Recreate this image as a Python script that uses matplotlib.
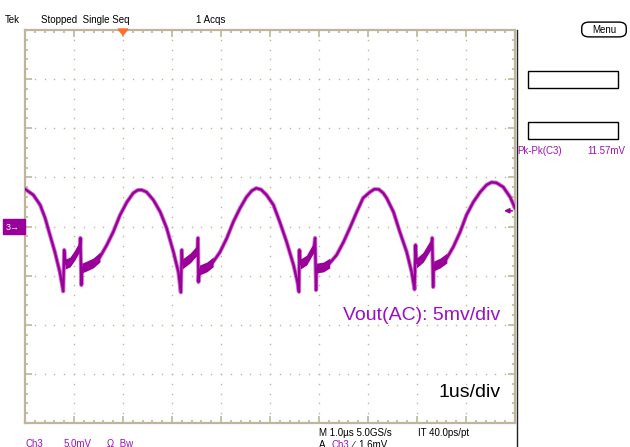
import numpy as np
import matplotlib.pyplot as plt
from matplotlib.ticker import MultipleLocator
from matplotlib.patches import FancyBboxPatch, Rectangle

# Scope trace: time in us (1 us/div), voltage in mV (5 mV/div)
t_us = [0.00, 0.17, 0.31, 0.41, 0.51, 0.61, 0.71, 0.78, 0.80, 0.82, 0.92, 1.02, 1.12, 1.13, 1.15, 1.16,
        1.26, 1.39, 1.53, 1.67, 1.80, 1.94, 2.08, 2.21, 2.30, 2.38,
        2.48, 2.62, 2.76, 2.89, 3.03, 3.13, 3.18, 3.20, 3.21, 3.37, 3.52, 3.53, 3.54, 3.56,
        3.71, 3.84, 3.98, 4.12, 4.25, 4.39, 4.52, 4.63, 4.72, 4.82,
        4.93, 5.07, 5.20, 5.34, 5.48, 5.56, 5.59, 5.60, 5.62, 5.75, 5.90, 5.92, 5.94, 5.95,
        6.09, 6.22, 6.36, 6.50, 6.63, 6.77, 6.90, 7.04, 7.13, 7.22, 7.31,
        7.38, 7.52, 7.65, 7.79, 7.89, 7.95, 7.97, 7.99, 8.13, 8.30, 8.31, 8.33, 8.34,
        8.47, 8.61, 8.74, 8.88, 9.01, 9.15, 9.29, 9.42, 9.52, 9.62, 9.76, 9.90, 10.00]
v_mv = [3.82, 3.21, 2.19, 0.87, -0.87, -2.60, -4.63, -6.60, -2.39, -3.82, -3.61, -2.90, -1.99, -1.17, -5.96, -4.23,
        -4.02, -3.72, -3.11, -1.88, -0.56, 1.17, 2.49, 3.41, 3.70, 3.72,
        3.51, 2.70, 1.48, -0.15, -2.60, -4.63, -6.70, -2.39, -3.82, -3.21, -2.39, -1.17, -5.65, -4.43,
        -4.12, -3.61, -2.60, -1.17, 0.46, 1.88, 3.00, 3.65, 3.90, 3.75,
        3.21, 2.19, 0.46, -1.58, -3.92, -5.65, -6.65, -2.39, -3.82, -3.41, -2.09, -1.17, -6.47, -4.23,
        -4.12, -3.72, -2.90, -1.58, -0.15, 1.48, 2.90, 3.51, 3.80, 3.78, 3.41,
        2.90, 1.48, -0.56, -2.60, -4.63, -6.40, -1.88, -3.72, -3.11, -1.68, -1.17, -6.16, -4.02,
        -3.72, -3.21, -2.09, -0.56, 1.17, 2.49, 3.51, 4.23, 4.50, 4.45, 4.02, 3.00, 1.88]

# stretches where the trace is visibly noisier (us)
noisy_windows = [(0.82, 1.12), (1.16, 1.55), (3.21, 3.52), (3.56, 3.90),
                 (5.62, 5.90), (5.95, 6.30), (7.99, 8.30), (8.34, 8.65)]

trigger_level_mv = 1.6
pk_pk = "11.57mV"

TRACE = '#990099'
GRAT = '#bdb59c'

W, H = 630, 447
fig = plt.figure(figsize=(W / 100, H / 100), dpi=100)
plt.rcParams['font.family'] = ['Liberation Sans', 'DejaVu Sans']


def px(x, y):
    return x / W, 1 - y / H


ax = fig.add_axes([25 / W, (H - 423) / H, 490 / W, 393 / H])
ax.set_xlim(0, 10)
ax.set_ylim(-20, 20)

# graticule: dotted grid + ticked frame
for xv in range(1, 10):
    yy = np.arange(-20, 20.01, 1.0)
    ax.plot(np.full_like(yy, xv), yy, ls='none', marker='s', ms=1.0, mew=0, color=GRAT)
for yv in range(-15, 20, 5):
    xx = np.arange(0, 10.01, 0.2)
    ax.plot(xx, np.full_like(xx, yv), ls='none', marker='s', ms=1.0, mew=0, color=GRAT)

ax.xaxis.set_major_locator(MultipleLocator(1))
ax.xaxis.set_minor_locator(MultipleLocator(0.2))
ax.yaxis.set_major_locator(MultipleLocator(5))
ax.yaxis.set_minor_locator(MultipleLocator(1))
ax.tick_params(which='both', direction='in', top=True, right=True,
               labelbottom=False, labelleft=False, color=GRAT, width=1.2)
ax.tick_params(which='major', length=5)
ax.tick_params(which='minor', length=2.5)
for s in ax.spines.values():
    s.set_color(GRAT)
    s.set_linewidth(1.6)

# trace
t = np.array(t_us)
v = np.array(v_mv)
ax.plot(t, v, color='#d070d0', lw=3.0, zorder=3)
ax.plot(t, v, color=TRACE, lw=1.7, zorder=4)
for a, b in noisy_windows:
    m = (t >= a) & (t <= b)
    ax.fill_between(t[m], v[m] - 0.5, v[m] + 0.5, color=TRACE, lw=0, zorder=4)

# trigger level marker at right edge
ax.annotate('', xy=(9.72, trigger_level_mv), xytext=(10.0, trigger_level_mv),
            arrowprops=dict(arrowstyle='-|>', color=TRACE, lw=1.2, mutation_scale=7),
            annotation_clip=False, zorder=5)

# annotations in the plot area
ax.text(9.7, -9.1, 'Vout(AC): 5mv/div', color='#9a10c8', fontsize=14,
        ha='right', va='center', zorder=6)
ax.text(9.7, -16.9, '1us/div', color='black', fontsize=14,
        ha='right', va='center', zorder=6)

# trigger position marker (orange) on top edge
fig.patches.append(plt.Polygon([px(118, 29), px(128, 29), px(123, 35)], closed=True,
                               transform=fig.transFigure, color='#ff7030', zorder=10))

# channel ground marker on the left
fig.patches.append(Rectangle(px(3, 234), 22 / W, 15 / H, transform=fig.transFigure,
                             color='#990099', zorder=10))
fig.text(*px(13, 227), '3\u2192', color='white', fontsize=6.5, ha='center', va='center', zorder=11)

# top status line
fig.text(*px(5, 20), 'Tek', fontsize=7, va='center')
fig.text(*px(41, 20), 'Stopped  Single Seq', fontsize=7, va='center')
fig.text(*px(196, 20), '1 Acqs', fontsize=7, va='center')

# right side panel
fig.patches.append(FancyBboxPatch(px(583, 36), 42 / W, 13 / H, boxstyle='round,pad=0.002,rounding_size=0.012',
                                  transform=fig.transFigure, fc='white', ec='black', lw=1.0))
fig.text(*px(604, 30), 'Menu', fontsize=7, ha='center', va='center')
for ytop in (71, 122):
    fig.patches.append(Rectangle(px(528, ytop + 17), 90 / W, 17 / H, transform=fig.transFigure,
                                 fc='white', ec='black', lw=1.0))
fig.text(*px(517, 151), 'Pk-Pk(C3)', fontsize=7, color='#a010b0', va='center')
fig.text(*px(625, 151), pk_pk, fontsize=7, color='#a010b0', va='center', ha='right')
fig.add_artist(plt.Line2D([517 / W, 517 / W], [0, 1 - 30 / H], transform=fig.transFigure,
                          color='#202020', lw=1.0))

# bottom status lines (cut off by the screen edge, as on the scope)
fig.text(*px(25, 444), 'Ch3', fontsize=7, color='#a010b0', va='center')
fig.text(*px(64, 444), '5.0mV', fontsize=7, color='#a010b0', va='center')
fig.text(*px(107, 444), '\u03a9  Bw', fontsize=7, color='#a010b0', va='center')
fig.text(*px(319, 433), 'M 1.0\u00b5s 5.0GS/s', fontsize=7, va='center')
fig.text(*px(418, 433), 'IT 40.0ps/pt', fontsize=7, va='center')
fig.text(*px(319, 445), 'A', fontsize=7, va='center')
fig.text(*px(331, 445), 'Ch3', fontsize=7, color='#a010b0', va='center')
fig.text(*px(353, 445), '\u2215  1.6mV', fontsize=7, va='center')

fig.savefig('out.png', dpi=100, facecolor='white')
